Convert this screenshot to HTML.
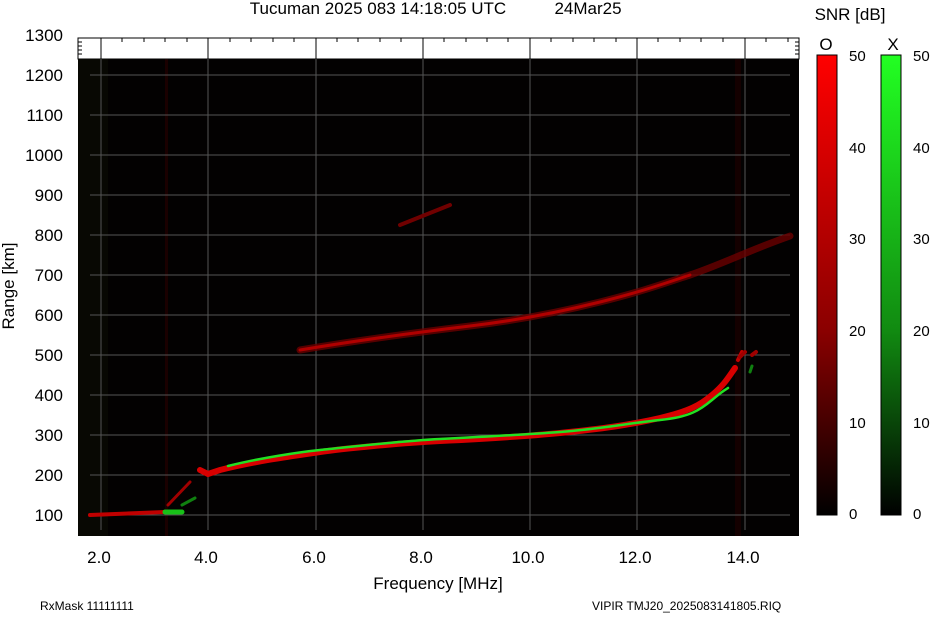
<!DOCTYPE html>
<html><head><meta charset="utf-8"><style>
body{margin:0;background:#fff;width:932px;height:614px;overflow:hidden}
text{font-family:"Liberation Sans",sans-serif}
</style></head><body>
<svg width="932" height="614" viewBox="0 0 932 614" xmlns="http://www.w3.org/2000/svg">
<defs>
<linearGradient id="gr" x1="0" y1="0" x2="0" y2="1"><stop offset="0" stop-color="#ff0000"/><stop offset="0.6" stop-color="#8a0000"/><stop offset="1" stop-color="#000"/></linearGradient>
<linearGradient id="gg" x1="0" y1="0" x2="0" y2="1"><stop offset="0" stop-color="#22ff22"/><stop offset="0.6" stop-color="#118a11"/><stop offset="1" stop-color="#000"/></linearGradient>
</defs>
<text x="378" y="14" font-size="17" text-anchor="middle">Tucuman 2025 083 14:18:05 UTC</text>
<text x="588" y="14" font-size="17" text-anchor="middle">24Mar25</text>
<!-- plot box -->
<rect x="78" y="38" width="721" height="21" fill="#fff" stroke="#000" stroke-width="1"/>
<rect x="78" y="59" width="721" height="477" fill="#030101"/>
<!-- noisy column tints -->
<rect x="78" y="59" width="30" height="477" fill="#0a0a04" opacity="0.8"/>
<rect x="165" y="59" width="3" height="477" fill="#1a0000"/>
<rect x="735" y="59" width="6" height="477" fill="#140000"/>
<g stroke="#555" stroke-width="1">
<line x1="101" y1="38" x2="101" y2="530"/><line x1="208" y1="38" x2="208" y2="530"/><line x1="316" y1="38" x2="316" y2="530"/><line x1="423" y1="38" x2="423" y2="530"/><line x1="530" y1="38" x2="530" y2="530"/><line x1="637" y1="38" x2="637" y2="530"/><line x1="745" y1="38" x2="745" y2="530"/>
<line x1="90" y1="75" x2="790" y2="75"/><line x1="90" y1="115" x2="790" y2="115"/><line x1="90" y1="155" x2="790" y2="155"/><line x1="90" y1="195" x2="790" y2="195"/><line x1="90" y1="235" x2="790" y2="235"/><line x1="90" y1="275" x2="790" y2="275"/><line x1="90" y1="315" x2="790" y2="315"/><line x1="90" y1="355" x2="790" y2="355"/><line x1="90" y1="395" x2="790" y2="395"/><line x1="90" y1="435" x2="790" y2="435"/><line x1="90" y1="475" x2="790" y2="475"/><line x1="90" y1="515" x2="790" y2="515"/>
</g>
<g stroke="#000" stroke-width="1">
<line x1="101" y1="38" x2="101" y2="59"/><line x1="208" y1="38" x2="208" y2="59"/><line x1="316" y1="38" x2="316" y2="59"/><line x1="423" y1="38" x2="423" y2="59"/><line x1="530" y1="38" x2="530" y2="59"/><line x1="637" y1="38" x2="637" y2="59"/><line x1="745" y1="38" x2="745" y2="59"/>
</g>
<g stroke="#000" stroke-width="1" id="mt">
<path d="M122 38v4M144 38v4M165 38v4M187 38v4M230 38v4M251 38v4M273 38v4M294 38v4M337 38v4M358 38v4M380 38v4M401 38v4M444 38v4M466 38v4M487 38v4M508 38v4M551 38v4M573 38v4M594 38v4M616 38v4M658 38v4M680 38v4M701 38v4M723 38v4M766 38v4M788 38v4M78 42h4M78 46h4M78 50h4M78 54h4M795 42h4M795 46h4M795 50h4M795 54h4"/>
</g>
<!-- traces -->
<g fill="none" stroke-linecap="round">
<path d="M300 350 C360 340,420 332,470 326 S560 312,600 302 S660 285,690 275 S750 250,790 236" stroke="#6a0000" stroke-width="7" opacity="0.8"/>
<path d="M300 350 C360 340,420 332,470 326 S560 312,600 302 S660 285,690 275" stroke="#b00000" stroke-width="3"/>
<path d="M400 225 L450 205" stroke="#700000" stroke-width="4"/>
<path d="M90 515 L165 512" stroke="#c00000" stroke-width="4"/>
<path d="M165 512 L182 512" stroke="#18c018" stroke-width="5"/>
<path d="M168 505 L190 482" stroke="#a00000" stroke-width="3"/>
<path d="M182 505 L195 498" stroke="#108010" stroke-width="3"/>
<path d="M200 470 L208 474 L220 470 C260 460,300 455,320 452 S400 443,440 441 S520 437,560 433 S630 425,660 418 S700 405,712 395 S728 378,735 368" stroke="#d80000" stroke-width="6"/>
<path d="M228 466 C260 458,300 452,320 450 S400 441,440 439 S520 435,560 432 S630 423,660 420 S700 410,712 400 S722 392,728 388" stroke="#22e022" stroke-width="2.5"/>
<path d="M738 360 L742 352" stroke="#c00000" stroke-width="4"/>
<path d="M750 372 L752 366" stroke="#108010" stroke-width="3"/>
<path d="M740 357 L745 352 M752 355 L756 352" stroke="#a00000" stroke-width="4"/>
</g>
<!-- axis labels -->
<g font-size="17" text-anchor="end">
<text x="63" y="41">1300</text><text x="63" y="81">1200</text><text x="63" y="121">1100</text><text x="63" y="161">1000</text><text x="63" y="201">900</text><text x="63" y="241">800</text><text x="63" y="281">700</text><text x="63" y="321">600</text><text x="63" y="361">500</text><text x="63" y="401">400</text><text x="63" y="441">300</text><text x="63" y="481">200</text><text x="63" y="521">100</text>
</g>
<g font-size="17" text-anchor="middle">
<text x="99" y="563">2.0</text><text x="206" y="563">4.0</text><text x="314" y="563">6.0</text><text x="421" y="563">8.0</text><text x="528" y="563">10.0</text><text x="635" y="563">12.0</text><text x="743" y="563">14.0</text>
<text x="438" y="589">Frequency [MHz]</text>
</g>
<text transform="translate(14,286) rotate(-90)" font-size="17" text-anchor="middle">Range [km]</text>
<text x="40" y="610" font-size="12">RxMask 11111111</text>
<text x="592" y="610" font-size="12">VIPIR  TMJ20_2025083141805.RIQ</text>
<!-- colorbars -->
<text x="850" y="20" font-size="17" text-anchor="middle">SNR [dB]</text>
<text x="826" y="50" font-size="17" text-anchor="middle">O</text>
<text x="893" y="50" font-size="17" text-anchor="middle">X</text>
<rect x="817" y="55" width="20" height="460" fill="url(#gr)" stroke="#000"/>
<rect x="881" y="55" width="20" height="460" fill="url(#gg)" stroke="#000"/>
<g font-size="15">
<text x="849" y="61">50</text><text x="849" y="153">40</text><text x="849" y="244">30</text><text x="849" y="336">20</text><text x="849" y="428">10</text><text x="849" y="519">0</text>
<text x="913" y="61">50</text><text x="913" y="153">40</text><text x="913" y="244">30</text><text x="913" y="336">20</text><text x="913" y="428">10</text><text x="913" y="519">0</text>
</g>
</svg>
</body></html>
